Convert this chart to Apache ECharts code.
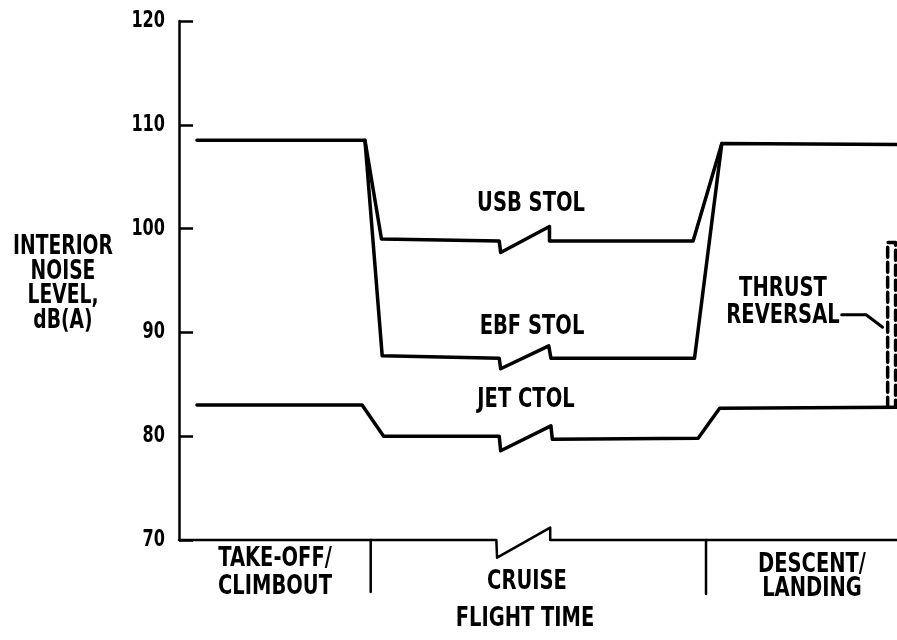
<!DOCTYPE html>
<html>
<head>
<meta charset="utf-8">
<script src="https://cdn.jsdelivr.net/npm/echarts@6/dist/echarts.min.js"></script>
<style>
html,body{margin:0;padding:0;background:#fff;}
#chart{width:897px;height:640px;}
</style>
</head>
<body>
<div id="chart"></div>
<script>
// ---- data (flight time in arbitrary units 0..100, noise level in dB(A)) ----
const yTicks = [70, 80, 90, 100, 110, 120];

const usbTime  = [2.5, 25.9, 28.2, 44.6, 44.8, 51.6, 51.6, 71.6, 75.6, 100];
const usbLevel = [108.5, 108.5, 99.0, 98.8, 97.7, 100.2, 98.8, 98.8, 108.2, 108.1];

const ebfTime  = [25.9, 28.3, 44.6, 44.8, 51.5, 51.8, 71.8, 75.6];
const ebfLevel = [108.5, 87.75, 87.5, 86.5, 88.7, 87.5, 87.5, 108.2];

const jetTime  = [2.5, 25.5, 28.5, 44.6, 44.8, 51.8, 52.0, 72.3, 75.3, 100];
const jetLevel = [83.0, 83.0, 80.0, 80.0, 78.6, 81.0, 79.7, 79.8, 82.7, 82.8];

const thrustTime  = [98.7, 98.7, 99.8, 99.8];
const thrustLevel = [82.8, 98.65, 98.65, 82.8];

const leaderTime  = [92.3, 95.7, 98.0];
const leaderLevel = [91.7, 91.7, 90.5];

const baseTime  = [0, 44.2, 44.3, 51.7, 51.7, 100];
const baseLevel = [70, 70, 68.3, 71.2, 70, 70];

const dividerTime = [26.7, 73.4];
const dividerLow  = [65.0, 64.8];

const seriesNames = ['USB STOL', 'EBF STOL', 'JET CTOL'];
const phaseLabels = ['TAKE-OFF/\nCLIMBOUT', 'CRUISE', 'DESCENT/\nLANDING'];
const xTitle = 'FLIGHT TIME';
const yTitle = 'INTERIOR\nNOISE\nLEVEL,\ndB(A)';
const thrustLabel = 'THRUST\nREVERSAL';

// ---- build ----
const zip = (xs, ys) => xs.map((x, i) => [x, ys[i]]);
const FONT = "'DejaVu Sans', sans-serif";
const INK = '#000';

function lineSeries(name, data, width, dashed) {
  return {
    name: name, type: 'line', data: data, symbol: 'none', clip: false,
    animation: false, silent: true,
    lineStyle: { color: INK, width: width, type: dashed ? [10, 5] : 'solid', cap: 'round', join: 'round' }
  };
}

const series = [
  lineSeries(seriesNames[0], zip(usbTime, usbLevel), 3.5),
  lineSeries(seriesNames[1], zip(ebfTime, ebfLevel), 3.5),
  lineSeries(seriesNames[2], zip(jetTime, jetLevel), 3.5),
  lineSeries('thrust reversal', zip(thrustTime, thrustLevel), 3.5, true),
  lineSeries('leader', zip(leaderTime, leaderLevel), 3),
  lineSeries('baseline', zip(baseTime, baseLevel), 2.5)
];
dividerTime.forEach((t, i) => {
  series.push(lineSeries('divider' + i, [[t, 70], [t, dividerLow[i]]], 2.5));
});

function txt(text, x, y, size, lh, sx, align) {
  return {
    type: 'text', x: x, y: y, silent: true, scaleX: sx || 0.75,
    style: {
      text: text, fill: INK, font: 'bold ' + size + 'px ' + FONT,
      textAlign: align || 'center', textVerticalAlign: 'middle', lineHeight: lh || size
    }
  };
}

const chart = echarts.init(document.getElementById('chart'), null, { renderer: 'canvas' });
chart.setOption({
  backgroundColor: '#fff',
  animation: false,
  grid: { left: 179, right: 0, top: 21, bottom: 100, containLabel: false },
  xAxis: { type: 'value', min: 0, max: 100, show: false },
  yAxis: {
    type: 'value', min: yTicks[0], max: yTicks[yTicks.length - 1], interval: 10,
    axisLine: { show: true, lineStyle: { color: INK, width: 2.5 } },
    axisTick: { show: true, inside: true, length: 14, lineStyle: { color: INK, width: 2.5 } },
    axisLabel: { show: false },
    splitLine: { show: false }
  },
  series: series
});

// tick labels placed through the y axis scale (condensed lettering)
const axisX = chart.convertToPixel({ xAxisIndex: 0 }, 0);
const graphics = yTicks.map(v =>
  txt(String(v), axisX - 14, chart.convertToPixel({ yAxisIndex: 0 }, v), 23, 23, 0.7, 'right')
);
graphics.push(
  txt(seriesNames[0], 531, 204, 26),
  txt(seriesNames[1], 532, 327, 26),
  txt(seriesNames[2], 526, 400, 26),
  txt(thrustLabel, 783, 303, 26, 27),
  txt(phaseLabels[0], 275, 573, 26, 28),
  txt(phaseLabels[1], 527, 582, 26),
  txt(phaseLabels[2], 812, 577, 26, 24),
  txt(xTitle, 525, 619, 26),
  txt(yTitle, 63, 284, 26, 24.5, 0.72)
);
chart.setOption({ graphic: graphics });
</script>
</body>
</html>
